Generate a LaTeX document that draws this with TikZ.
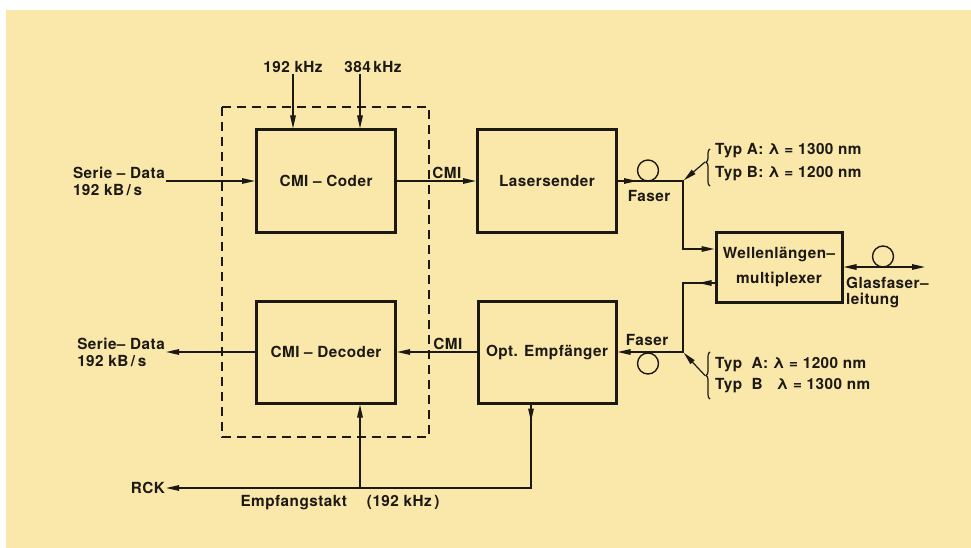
\documentclass[tikz,border=0pt]{standalone}
\usepackage{fontspec}
\setmainfont[LetterSpace=3]{TeX Gyre Heros}
\usetikzlibrary{arrows.meta,calc,positioning,decorations.markings,decorations.pathreplacing}
\definecolor{paper}{RGB}{250,232,170}
\definecolor{ink}{RGB}{28,24,20}

\begin{document}
\begin{tikzpicture}[x=1pt,y=-1pt,font=\bfseries\fontsize{15.3}{17}\selectfont,
    every node/.style={align=center,text=ink,inner sep=1pt},
    >={Triangle[length=13pt,width=5.5pt]},
    blockbox/.style={draw=ink,line width=3pt,minimum width=#1,minimum height=102pt},
    sig/.style={draw=ink,line width=1.4pt,->},
    wire/.style={draw=ink,line width=1.2pt},
    midtip/.style={postaction={decorate},decoration={markings,mark=at position #1 with {\arrow{>}}}},
    fibreloop/.style={draw=ink,line width=1.4pt}]
    \useasboundingbox[fill=white] (0,0) rectangle (971,548);
    \fill[paper] (6,10) rectangle (971,548);
    % CMI coder/decoder unit
    \draw[ink,line width=1.3pt,dash pattern=on 9pt off 6pt] (222,107) rectangle (429,437);
    \node[blockbox=139pt] (coder) at (326,181) {CMI -- Coder};
    \node[blockbox=139pt] (decoder) at (326,352) {CMI -- Decoder};
    \node[blockbox=139pt] (laser) at (547,181) {Lasersender};
    \node[blockbox=138pt] (empf) at (547,352) {Opt. Empfänger};
    \node[blockbox=126pt,minimum height=70pt,font=\bfseries\fontsize{15.3}{25}\selectfont] (mux) at (779,267) {Wellenlängen--\\multiplexer};
    % clocks and data
    \node (clkA) at (293,67) {192 kHz};
    \node (clkB) at (373,67) {384\,kHz};
    \draw[sig] (clkA) -- (clkA |- coder.north);
    \coordinate (clkBin) at ($(clkB.south)+(-13,0)$);
    \draw[sig] (clkBin) -- (clkBin |- coder.north);
    \node[anchor=east,align=left] (datain) at (166,181) {Serie -- Data\\192 kB\,/\,s};
    \draw[sig] (datain) -- (coder);
    \draw[sig] (coder) -- node[pos=0.63,above=1pt] {CMI} (laser);
    % transmit fibre
    \coordinate (splitA) at (683,181);
    \draw[sig,midtip=19pt] (laser.east) -- (splitA) |- ($(mux.west)+(0,-18)$);
    \draw[fibreloop] (648,170.5) circle[radius=10.5];
    \node (faserA) at (649,196) {Faser};
    \draw[wire,decorate,decoration={brace,amplitude=4pt,aspect=0.64}] (710,186) -- (710,149);
    \coordinate (braceA) at (705,162);
    \draw[sig,line width=1.2pt,shorten >=1pt] (braceA) -- (splitA);
    \node[anchor=west,align=left,font=\bfseries\fontsize{15.3}{23}\selectfont] (typA) at (714,162) {Typ A:\ λ =\ 1300 nm\\Typ B:\ λ =\ 1200 nm};
    % receive fibre
    \coordinate (splitB) at (683,352);
    \draw[sig,midtip=16pt] ($(mux.west)+(0,16)$) -| (splitB) -- (empf.east);
    \draw[fibreloop] (648,363.5) circle[radius=10.5];
    \node (faserB) at (647,340) {Faser};
    \draw[wire,decorate,decoration={brace,amplitude=4pt}] (710,399) -- (710,352);
    \coordinate (braceB) at (705,375.5);
    \draw[sig,line width=1.2pt,shorten >=1pt] (braceB) -- (splitB);
    \node[anchor=west,align=left,font=\bfseries\fontsize{15.3}{21}\selectfont] (typB) at (714,375) {Typ\ \ A:\ λ =\ 1200 nm\\Typ\ \ B\ \ \ λ =\ 1300 nm};
    \draw[sig] (empf) -- node[pos=0.36,above=1pt] {CMI} (decoder);
    \node[anchor=east,align=left] (dataout) at (166,352) {Serie-- Data\\192 kB\,/\,s};
    \draw[sig] (decoder) -- (dataout);
    % receive clock
    \coordinate (clkturn) at (531,488);
    \node[anchor=east] (rck) at (166,488) {RCK};
    \draw[sig,midtip=17pt] ($(empf.south)+(-16,0)$) -- (clkturn) -- (rck);
    \coordinate (tap) at (360,488);
    \draw[sig] (tap) -- (tap |- decoder.south);
    \node (takt) at (340,503) {Empfangstakt\quad\ (192 kHz\,)};
    % line fibre
    \coordinate (fibreend) at (925,267);
    \draw[wire,line width=1.4pt,<->] (mux) -- (fibreend);
    \draw[fibreloop] (883,256.5) circle[radius=10.5];
    \node[anchor=north west,align=left,font=\bfseries\fontsize{15.3}{16}\selectfont] (glas) at (845,276) {Glasfaser--\\leitung};
  \end{tikzpicture}
\end{document}
